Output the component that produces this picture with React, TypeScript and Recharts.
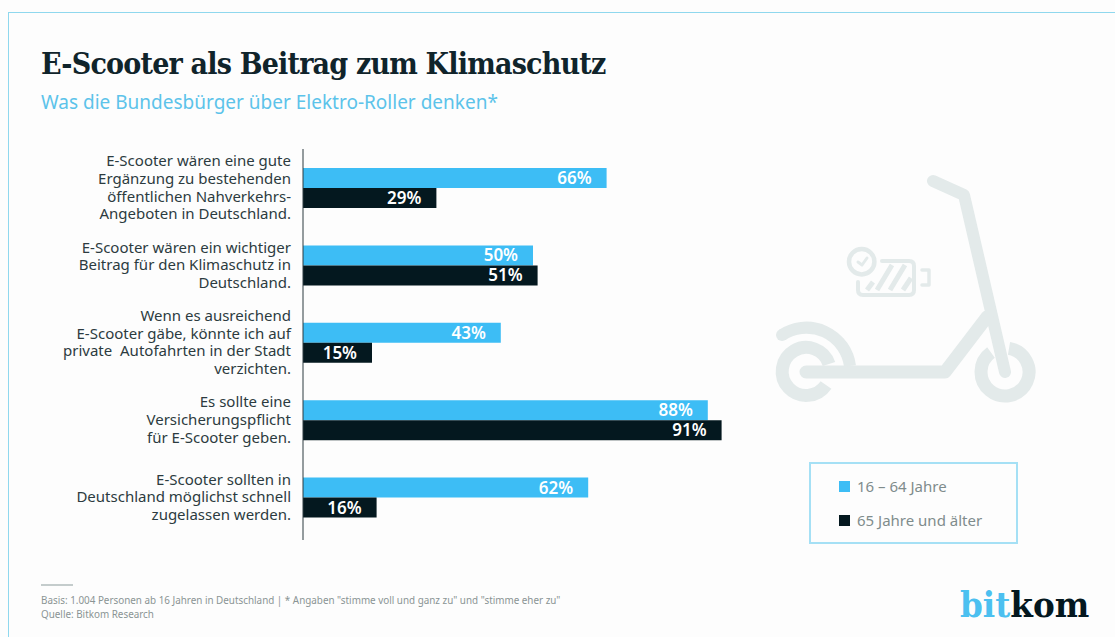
import { BarChart, Bar, XAxis, YAxis, LabelList, Legend } from "recharts";

const categories = [
  "E-Scooter wären eine gute\nErgänzung zu bestehenden\nöffentlichen Nahverkehrs-\nAngeboten in Deutschland.",
  "E-Scooter wären ein wichtiger\nBeitrag für den Klimaschutz in\nDeutschland.",
  "Wenn es ausreichend\nE-Scooter gäbe, könnte ich auf\nprivate  Autofahrten in der Stadt\nverzichten.",
  "Es sollte eine\nVersicherungspflicht\nfür E-Scooter geben.",
  "E-Scooter sollten in\nDeutschland möglichst schnell\nzugelassen werden.",
];
const younger = [66, 50, 43, 88, 62];
const older = [29, 51, 15, 91, 16];
const seriesNames = ["16 – 64 Jahre", "65 Jahre und älter"];

const BLUE = "#3dbdf5";
const DARK = "#04181f";
const FONT = "'Noto Sans', sans-serif";
const SLAB = "'DejaVu Serif Condensed', 'DejaVu Serif', serif";

const chartData = categories.map((name, i) => ({
  name,
  younger: younger[i],
  older: older[i],
}));

// multi-line right aligned question text
function QuestionTick({ x, y, payload }: any) {
  const lines = String(payload.value).split("\n");
  const lineHeight = 17.6;
  const startY = y - ((lines.length - 1) * lineHeight) / 2 + 5;
  return (
    <text x={x} y={startY} textAnchor="end" fontFamily={FONT} fontSize={15} fill="#2c3b40" style={{ whiteSpace: "pre" }}>
      {lines.map((line, i) => (
        <tspan key={i} x={x} y={startY + i * lineHeight}>
          {line}
        </tspan>
      ))}
    </text>
  );
}

function LegendBox({ payload }: any) {
  return (
    <div
      style={{
        boxSizing: "border-box",
        width: 209,
        height: 82,
        border: "2px solid #a5e0f5",
        padding: "5px 0 0 28px",
        fontFamily: FONT,
        fontSize: 15,
        color: "#7f8c8c",
      }}
    >
      {(payload || []).map((item: any) => (
        <div key={item.value} style={{ display: "flex", alignItems: "center", height: 34 }}>
          <span style={{ width: 11, height: 11, background: item.color, marginRight: 7 }} />
          {item.value}
        </div>
      ))}
    </div>
  );
}

// decorative scooter pictogram
function ScooterIcon() {
  const c = "#e3eaea";
  return (
    <svg width={1115} height={637} style={{ position: "absolute", left: 0, top: 0 }} fill="none" stroke={c} strokeLinecap="round" strokeLinejoin="round">
      <path d="M933 181 L964 195 L1005 372" strokeWidth={12} />
      <path d="M806 372 L945 372 L987 317" strokeWidth={13} />
      <path d="M991 352.5 A24 24 0 1 0 1009 348.3" strokeWidth={13} strokeLinecap="butt" />
      <path d="M829 364 A24 24 0 1 0 826 385" strokeWidth={13} strokeLinecap="butt" />
      <path d="M782 335 A44 44 0 0 1 850 366" strokeWidth={12} strokeLinecap="butt" />
      <path d="M782 335 L782.1 335" strokeWidth={12} />
      <circle cx={861.7} cy={261.7} r={12.7} strokeWidth={4.5} />
      <path d="M858 262 L862 265 L867 258" strokeWidth={3} />
      <path d="M858 282 L858 290 Q858 295 863 295 L909 295 Q914 295 914 290 L914 266 Q914 261 909 261 L882 261" strokeWidth={4} />
      <path d="M922 270 L929 270 L929 285 L922 285" strokeWidth={3.5} />
      <path d="M867 290 L873 282 M877 290 L892 265 M890 290 L905 265 M903 290 L911 278" strokeWidth={5} strokeLinecap="butt" />
    </svg>
  );
}

export default function App() {
  return (
    <div style={{ position: "absolute", left: 0, top: 0, width: 1115, height: 637, background: "#fdfdfd", overflow: "hidden" }}>
      <div style={{ position: "absolute", left: 8, top: 12, width: 1107, height: 625, borderLeft: "1px solid #8fd8ee", borderTop: "1px solid #8fd8ee" }} />
      <div style={{ position: "absolute", left: 41, top: 46, fontFamily: SLAB, fontWeight: 700, fontSize: 30, letterSpacing: -0.8, color: "#10242b", whiteSpace: "nowrap" }}>
        E-Scooter als Beitrag zum Klimaschutz
      </div>
      <div style={{ position: "absolute", left: 41, top: 89, fontFamily: FONT, fontSize: 19, color: "#5cc3ea", whiteSpace: "nowrap" }}>
        Was die Bundesbürger über Elektro-Roller denken*
      </div>

      <ScooterIcon />

      <div style={{ position: "absolute", left: 0, top: 0 }}>
        <BarChart
          width={1115}
          height={637}
          data={chartData}
          layout="vertical"
          margin={{ top: 149, right: 352, bottom: 97, left: 0 }}
          barSize={20}
          barGap={0}
        >
          <XAxis type="number" domain={[0, 100]} hide />
          <YAxis
            type="category"
            dataKey="name"
            width={303}
            interval={0}
            tick={QuestionTick}
            tickLine={false}
            tickMargin={6}
            axisLine={{ stroke: "#2c3b40", strokeWidth: 1 }}
            padding={{ top: 0, bottom: 4 }}
          />
          <Bar dataKey="younger" name={seriesNames[0]} fill={BLUE} isAnimationActive={false}>
            <LabelList dataKey="younger" position="insideRight" offset={15} formatter={(v: any) => `${v}%`} fill="#fff" fontFamily={FONT} fontSize={17} fontWeight={600} />
          </Bar>
          <Bar dataKey="older" name={seriesNames[1]} fill={DARK} isAnimationActive={false}>
            <LabelList dataKey="older" position="insideRight" offset={15} formatter={(v: any) => `${v}%`} fill="#fff" fontFamily={FONT} fontSize={17} fontWeight={600} />
          </Bar>
          <Legend
            layout="vertical"
            align="center"
            verticalAlign="middle"
            content={LegendBox}
            wrapperStyle={{ position: "absolute", left: 809, top: 462, width: 209, height: 82 }}
          />
        </BarChart>
      </div>

      <div style={{ position: "absolute", left: 41, top: 584, width: 32, height: 2, background: "#c4cccc" }} />
      <div style={{ position: "absolute", left: 41, top: 594, fontFamily: FONT, fontSize: 9.87, lineHeight: "13.5px", color: "#8a9494", whiteSpace: "nowrap" }}>
        Basis: 1.004 Personen ab 16 Jahren in Deutschland | * Angaben "stimme voll und ganz zu" und "stimme eher zu"
        <br />
        Quelle: Bitkom Research
      </div>
      <div style={{ position: "absolute", left: 960, top: 581, fontFamily: SLAB, fontWeight: 700, fontSize: 36.3, lineHeight: "48px", whiteSpace: "nowrap", color: DARK }}>
        <span style={{ color: "#4cc0f0" }}>bit</span>kom
      </div>
    </div>
  );
}
